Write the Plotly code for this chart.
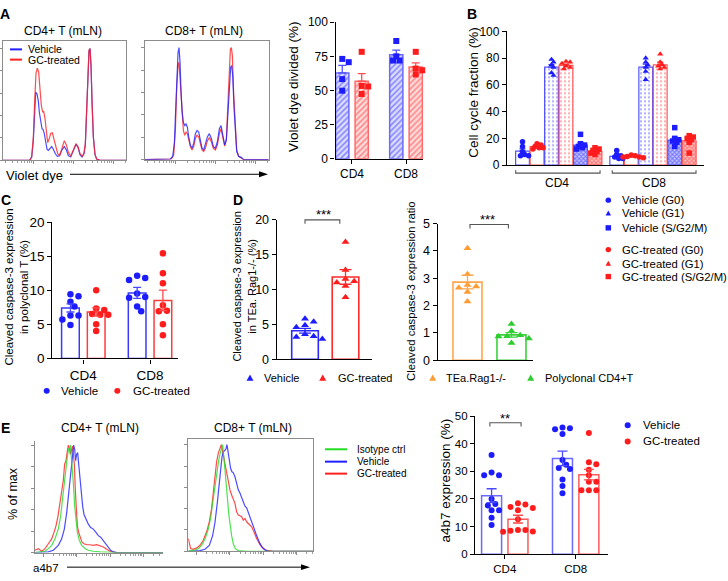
import numpy as np
import plotly.graph_objects as go

W, H = 728, 581
FONT = "Arial, Liberation Sans, sans-serif"
BLUE = "#1C1CFF"
RED = "#FF1C1C"
ORANGE = "#FF9C33"
GREEN = "#2ECC2E"
HGREEN = "#22DD22"

# ======================= DATA =======================
# Panel A histograms: violet dye channel vs event counts
A4_veh_ch = [8, 88, 95, 100, 104, 107, 111, 115, 118, 122, 126, 129, 133, 137, 141, 145, 150, 155, 160, 166, 172, 178, 186, 193, 199, 205, 212, 220, 228, 234, 240, 246, 252, 256, 260, 264, 267, 270, 273, 276, 280, 285, 290, 300, 378]
A4_veh_ct = [0, 0, 10, 62, 147, 210, 204, 182, 147, 117, 97, 95, 82, 57, 34, 30, 37, 42, 34, 20, 12, 14, 32, 42, 32, 14, 10, 27, 49, 40, 17, 10, 20, 47, 142, 267, 337, 344, 292, 182, 72, 17, 4, 0, 0]
A4_gc_ch = [8, 90, 95, 100, 104, 108, 112, 116, 120, 124, 128, 131, 135, 139, 143, 147, 152, 157, 162, 167, 173, 179, 186, 193, 199, 205, 212, 220, 228, 234, 240, 246, 252, 256, 260, 264, 267, 270, 273, 276, 280, 285, 290, 300, 378]
A4_gc_ct = [0, 0, 10, 72, 182, 267, 282, 270, 217, 167, 147, 150, 127, 87, 54, 64, 82, 84, 62, 37, 20, 14, 37, 60, 47, 24, 12, 30, 50, 42, 20, 12, 22, 52, 152, 272, 337, 342, 292, 182, 72, 17, 4, 0, 0]

A8_veh_ch = [8, 85, 92, 97, 100, 104, 108, 111, 114, 117, 120, 124, 128, 132, 136, 140, 145, 150, 155, 160, 165, 170, 175, 180, 185, 190, 196, 202, 208, 214, 220, 226, 232, 237, 242, 248, 253, 258, 262, 266, 269, 272, 276, 280, 284, 290, 298, 305, 380]
A8_veh_ct = [0, 2, 10, 50, 130, 250, 330, 345, 300, 210, 150, 115, 105, 110, 100, 70, 45, 35, 50, 80, 90, 85, 60, 35, 30, 45, 70, 80, 65, 40, 35, 55, 95, 105, 80, 45, 60, 150, 240, 285, 290, 260, 160, 70, 25, 10, 7, 0, 0]
A8_gc_ch = [8, 88, 95, 100, 104, 108, 111, 114, 117, 120, 124, 128, 132, 136, 140, 145, 150, 155, 160, 165, 170, 175, 180, 185, 190, 196, 202, 208, 214, 220, 226, 232, 237, 242, 248, 253, 258, 262, 265, 268, 271, 275, 280, 284, 290, 298, 305, 380]
A8_gc_ct = [0, 2, 15, 90, 220, 290, 300, 250, 180, 120, 90, 75, 85, 80, 60, 40, 30, 40, 65, 75, 70, 50, 30, 25, 35, 58, 68, 55, 35, 30, 45, 80, 95, 70, 42, 65, 180, 290, 340, 345, 320, 200, 80, 30, 10, 5, 0, 0]

# Panel A bar chart: violet dye divided (%)
A_groups = ["CD4", "CD8"]
A_veh_mean = [62.8, 76.2]
A_veh_sem = [5.5, 3.3]
A_gc_mean = [56.8, 67.1]
A_gc_sem = [5.5, 3.1]
A_veh_pts = [[73.1, 70.7, 58.3, 49.8], [86.2, 75.0, 71.9, 71.9]]
A_gc_pts = [[78.3, 53.3, 52.9, 47.4], [78.3, 66.0, 64.8, 61.7]]

# Panel B: cell cycle fraction (%), [CD4, CD8] x [G0, G1, S/G2/M]
B_groups = ["CD4", "CD8"]
B_phases = ["G0", "G1", "S/G2/M"]
B_veh_mean = [[10.5, 73.3, 15.0], [6.6, 73.3, 18.7]]
B_veh_sem = [[1.6, 1.8, 1.6], [0.9, 2.2, 2.0]]
B_gc_mean = [[13.8, 74.5, 10.2], [6.2, 75.0, 18.2]]
B_gc_sem = [[0.8, 1.0, 0.8], [0.3, 2.0, 1.9]]
B_veh_pts = [[[17.5, 14, 10, 8, 7, 7], [79, 77, 75, 73, 69, 67], [23, 16, 15, 14, 13, 12]],
             [[11, 8, 7, 6, 5, 5], [80, 77, 75, 73, 70, 64], [28, 20, 19, 18, 17, 14]]]
B_gc_pts = [[[16, 15, 14, 13, 13, 12], [77.5, 77, 76, 74, 73, 72], [13, 12, 11, 10, 9, 8]],
            [[7.5, 7, 6.5, 6, 6, 5.5], [83, 77, 75, 74, 73, 72], [22, 21, 20, 19, 17, 9]]]

# Panel C: cleaved caspase-3 in polyclonal T (%)
C_groups = ["CD4", "CD8"]
C_veh_mean = [7.4, 9.6]
C_veh_sem = [0.6, 0.8]
C_gc_mean = [6.8, 8.5]
C_gc_sem = [0.6, 1.5]
C_veh_pts = [[9.4, 9.1, 8.3, 7.6, 6.3, 6.3, 5.7, 4.9], [12.1, 11.8, 11.5, 9.5, 9.0, 8.9, 7.6, 6.9]]
C_gc_pts = [[10.0, 7.3, 7.1, 6.5, 6.4, 6.4, 5.0, 4.0], [15.4, 12.5, 11.0, 7.8, 7.0, 6.9, 5.0, 3.4]]

# Panel D
D1_labels = ["Vehicle", "GC-treated"]
D1_mean = [4.1, 11.8]
D1_sem = [0.35, 1.05]
D1_pts = [[5.8, 5.4, 4.9, 4.6, 3.6, 3.3, 3.2, 2.9], [16.8, 12.8, 11.5, 11.2, 11.0, 10.5, 8.9]]
D2_labels = ["TEa.Rag1-/-", "Polyclonal CD4+T"]
D2_mean = [2.86, 0.93]
D2_sem = [0.25, 0.08]
D2_pts = [[4.1, 3.15, 2.75, 2.7, 2.65, 2.5, 2.15], [1.33, 1.07, 0.92, 0.88, 0.87, 0.8, 0.63]]

# Panel E histograms: a4b7 channel vs event counts
E4_iso_ch = [15, 30, 45, 55, 65, 75, 85, 92, 98, 103, 108, 112, 116, 119, 121, 124, 127, 130, 134, 138, 142, 148, 155, 165, 175, 190, 210, 260, 399]
E4_iso_ct = [0, 2, 4, 12, 22, 42, 72, 112, 172, 222, 262, 292, 317, 312, 327, 292, 272, 212, 142, 92, 62, 37, 22, 12, 7, 4, 2, 0, 0]
E4_veh_ch = [15, 40, 55, 70, 85, 95, 103, 110, 115, 120, 124, 128, 131, 134, 137, 140, 143, 146, 150, 154, 158, 162, 168, 175, 182, 190, 198, 205, 212, 220, 228, 235, 242, 250, 260, 399]
E4_veh_ct = [0, 0, 2, 7, 22, 42, 72, 122, 172, 222, 262, 292, 330, 317, 282, 302, 307, 272, 222, 182, 142, 117, 102, 87, 77, 72, 62, 52, 47, 37, 27, 17, 7, 2, 0, 0]
E4_gc_ch = [15, 25, 35, 45, 55, 65, 72, 78, 84, 90, 95, 100, 104, 108, 112, 115, 118, 121, 124, 127, 130, 133, 136, 139, 142, 146, 150, 156, 162, 170, 180, 190, 200, 210, 220, 230, 240, 250, 260, 399]
E4_gc_ct = [7, 12, 4, 12, 27, 42, 62, 82, 112, 152, 187, 222, 272, 282, 312, 330, 322, 302, 312, 327, 302, 272, 192, 122, 82, 62, 47, 32, 27, 24, 24, 22, 24, 20, 17, 10, 4, 1, 0, 0]

E8_iso_ch = [25, 30, 45, 55, 65, 75, 85, 92, 98, 103, 108, 112, 116, 120, 124, 128, 131, 134, 138, 142, 146, 150, 155, 160, 166, 175, 200, 400]
E8_iso_ct = [0, 2, 4, 8, 18, 38, 68, 103, 148, 188, 228, 258, 278, 298, 313, 328, 298, 268, 218, 168, 118, 78, 48, 23, 8, 2, 0, 0]
E8_veh_ch = [25, 40, 60, 75, 88, 98, 105, 112, 118, 122, 126, 130, 134, 138, 141, 144, 148, 152, 156, 160, 165, 170, 175, 180, 185, 190, 195, 200, 205, 210, 215, 222, 230, 238, 246, 255, 265, 400]
E8_veh_ct = [0, 0, 2, 6, 18, 48, 88, 148, 208, 258, 288, 303, 308, 313, 326, 303, 278, 253, 243, 240, 228, 203, 188, 178, 163, 153, 138, 133, 118, 103, 88, 68, 48, 28, 13, 4, 0, 0]
E8_gc_ch = [25, 28, 32, 40, 50, 60, 70, 80, 88, 95, 100, 105, 110, 115, 120, 124, 127, 130, 135, 140, 145, 150, 155, 160, 165, 170, 175, 180, 185, 190, 195, 200, 205, 210, 215, 222, 230, 240, 250, 260, 280, 400]
E8_gc_ct = [38, 20, 8, 6, 10, 18, 33, 58, 88, 128, 178, 238, 268, 293, 308, 318, 303, 288, 258, 228, 203, 183, 168, 153, 143, 118, 108, 106, 103, 93, 98, 88, 83, 78, 73, 58, 38, 20, 8, 3, 0, 0]

# Panel E bar chart: a4b7 expression (%)
E_groups = ["CD4", "CD8"]
E_veh_mean = [21.2, 34.7]
E_veh_sem = [2.5, 2.6]
E_gc_mean = [12.7, 28.8]
E_gc_sem = [1.4, 1.9]
E_veh_pts = [[35.9, 29.6, 28.6, 28.6, 20.0, 18.2, 17.6, 15.9, 15.9, 13.2, 10.6],
             [45.9, 45.6, 45.3, 43.5, 34.1, 32.4, 31.2, 30.9, 27.1, 24.7, 22.1]]
E_gc_pts = [[18.5, 18.0, 17.1, 16.7, 15.9, 12.7, 8.8, 8.8, 8.5, 8.2, 8.1],
            [43.9, 33.3, 32.6, 30.6, 28.6, 26.2, 26.2, 23.2, 23.2, 23.2]]

# ======================= HELPERS =======================
fig = go.Figure()
layout = {}
shapes = []
anns = []


def X(p):
    return p / W


def Y(p):
    return 1 - p / H


def axes(i, xpx, ypx, xk, yk):
    s = "" if i == 1 else str(i)
    layout["xaxis" + s] = dict(domain=[X(xpx[0]), X(xpx[1])], anchor="y" + s, **xk)
    layout["yaxis" + s] = dict(domain=[Y(ypx[1]), Y(ypx[0])], anchor="x" + s, **yk)
    return "x" + s, "y" + s


def bar_y(rng, tickvals, size):
    return dict(range=rng, tickmode="array", tickvals=tickvals, showline=True, linecolor="black",
                linewidth=1.3, ticks="outside", ticklen=4, tickwidth=1.3, tickcolor="black",
                showgrid=False, zeroline=False, tickfont=dict(family=FONT, size=size, color="black"))


def bar_x(rng, tickvals=None, ticktext=None, size=12):
    d = dict(range=rng, showline=True, linecolor="black", linewidth=1.3, showgrid=False, zeroline=False,
             tickfont=dict(family=FONT, size=size, color="black"))
    if tickvals is not None:
        d.update(tickmode="array", tickvals=tickvals, ticktext=ticktext, ticks="outside", ticklen=4,
                 tickwidth=1.3, tickcolor="black")
    else:
        d.update(showticklabels=False, ticks="")
    return d


def log_ticks(starts, width):
    major, minor = [], []
    for s in starts:
        major.append(s)
        for k in range(2, 10):
            minor.append(s + width * np.log10(k))
    return major, minor


def hist_x(rng, starts, width, mirror):
    major, minor = log_ticks(starts, width)
    return dict(range=rng, showline=True, linecolor="#8c8c8c", linewidth=1, mirror=mirror,
                ticks="outside", ticklen=3, tickcolor="#8c8c8c", tickwidth=1, tickmode="array",
                tickvals=major, showticklabels=False, showgrid=False, zeroline=False,
                minor=dict(tickmode="array", tickvals=minor, ticks="outside", ticklen=2, tickcolor="#9c9c9c"))


def hist_y(top, mirror):
    return dict(range=[0, top], showline=True, linecolor="#8c8c8c", linewidth=1, mirror=mirror,
                ticks="outside", ticklen=3, tickcolor="#8c8c8c", tickmode="array",
                tickvals=[0, 20, 40, 60, 80, 100], showticklabels=False, showgrid=False, zeroline=False)


def hist(xa, ya, ch, ct, color):
    ct = np.asarray(ct, float)
    pct = ct / ct.max() * 100.0
    fig.add_trace(go.Scatter(x=ch, y=pct, mode="lines", line=dict(color=color, width=1.2), opacity=0.8,
                             xaxis=xa, yaxis=ya, showlegend=False, hoverinfo="skip"))


def swarm(vals, kx, ky, d, sep=0.92):
    vals = np.asarray(vals, float)
    order = np.argsort(-vals, kind="stable")
    placed = []
    offs = np.zeros(len(vals))
    step = d * 0.62 * sep / 0.92
    cands = [0.0]
    for k in range(1, 14):
        cands += [k * step, -k * step]
    for i in order:
        yv = vals[i] * ky
        pick = cands[-1]
        for c in cands:
            if all((c - a) ** 2 + (yv - b) ** 2 >= (sep * d) ** 2 for a, b in placed):
                pick = c
                break
        placed.append((pick, yv))
        offs[i] = pick / kx
    return offs


def bars(xa, ya, xs, means, width, fill, edge, pattern=None, lw=1.5):
    mk = dict(color=fill, line=dict(color=edge, width=lw))
    if pattern is not None:
        mk["pattern"] = pattern
    fig.add_trace(go.Bar(x=xs, y=means, width=width, marker=mk, xaxis=xa, yaxis=ya,
                         showlegend=False, hoverinfo="skip"))


def errs(xa, ya, xs, means, sems, color, both=True, cap=4):
    fig.add_trace(go.Scatter(x=xs, y=means, mode="markers", marker=dict(size=1, color="rgba(0,0,0,0)"),
                             error_y=dict(type="data", symmetric=False, array=sems,
                                          arrayminus=sems if both else [0] * len(sems),
                                          color=color, thickness=1.3, width=cap),
                             xaxis=xa, yaxis=ya, showlegend=False, hoverinfo="skip"))


def points(xa, ya, center, vals, kx, ky, d, symbol, color, sep=0.92):
    offs = swarm(vals, kx, ky, d, sep)
    fig.add_trace(go.Scatter(x=center + offs, y=vals, mode="markers",
                             marker=dict(symbol=symbol, size=d, color=color, line=dict(width=0)),
                             xaxis=xa, yaxis=ya, showlegend=False, hoverinfo="skip", cliponaxis=False))


def text(t, x, y, size=12, xanchor="center", angle=0, bold=False, color="black", xref="paper"):
    anns.append(dict(text=("<b>%s</b>" % t) if bold else t, x=X(x) if xref == "paper" else x,
                     y=Y(y), xref=xref, yref="paper", showarrow=False, xanchor=xanchor,
                     yanchor="middle", textangle=angle,
                     font=dict(family=FONT, size=size, color=color)))


def hline(x0, x1, y, color, w=2):
    shapes.append(dict(type="line", xref="paper", yref="paper", x0=X(x0), x1=X(x1), y0=Y(y), y1=Y(y),
                       line=dict(color=color, width=w)))


def glyph(x, y, sym, color, s=6):
    if sym == "circle":
        shapes.append(dict(type="circle", xref="paper", yref="paper", x0=X(x - s / 2), x1=X(x + s / 2),
                           y0=Y(y + s / 2), y1=Y(y - s / 2), fillcolor=color, line=dict(width=0)))
    elif sym == "square":
        shapes.append(dict(type="rect", xref="paper", yref="paper", x0=X(x - s / 2), x1=X(x + s / 2),
                           y0=Y(y + s / 2), y1=Y(y - s / 2), fillcolor=color, line=dict(width=0)))
    else:
        p = "M %f,%f L %f,%f L %f,%f Z" % (X(x - s / 2), Y(y + s * 0.42), X(x + s / 2), Y(y + s * 0.42),
                                           X(x), Y(y - s * 0.5))
        shapes.append(dict(type="path", xref="paper", yref="paper", path=p, fillcolor=color,
                           line=dict(width=0)))


def arrow(x0, x1, y):
    shapes.append(dict(type="line", xref="paper", yref="paper", x0=X(x0), x1=X(x1 - 6), y0=Y(y), y1=Y(y),
                       line=dict(color="black", width=1)))
    p = "M %f,%f L %f,%f L %f,%f Z" % (X(x1), Y(y), X(x1 - 9), Y(y - 3), X(x1 - 9), Y(y + 3))
    shapes.append(dict(type="path", xref="paper", yref="paper", path=p, fillcolor="black",
                       line=dict(width=0)))


def bracket(xref, xa, xb, ypx, h, color="#555555"):
    p = "M %f,%f L %f,%f L %f,%f L %f,%f" % (xa, Y(ypx + h), xa, Y(ypx), xb, Y(ypx), xb, Y(ypx + h))
    shapes.append(dict(type="path", xref=xref, yref="paper", path=p, line=dict(color=color, width=1.1)))


# ======================= PANEL A =======================
xa, ya = axes(1, (2.7, 126), (35, 157.3), hist_x([8, 378], [-20, 100, 220, 340], 120, True), hist_y(106.7, True))
hist(xa, ya, A4_veh_ch, A4_veh_ct, "#2020FF")
hist(xa, ya, A4_gc_ch, A4_gc_ct, "#FF2020")
xa, ya = axes(2, (144.7, 268.7), (35, 156.7), hist_x([8, 380], [-20, 100, 220, 340], 120, True), hist_y(105.8, True))
hist(xa, ya, A8_gc_ch, A8_gc_ct, "#FF2020")
hist(xa, ya, A8_veh_ch, A8_veh_ct, "#2020FF")

text("CD4+ T (mLN)", 62.5, 25, 12)
text("CD8+ T (mLN)", 204, 25, 12)
hline(10, 22, 43.5, "#2020FF")
hline(10, 22, 54, "#FF2020")
text("Vehicle", 26, 43.5, 10.5, xanchor="left")
text("GC-treated", 26, 54, 10.5, xanchor="left")
text("Violet dye", 4, 172.5, 13, xanchor="left")
arrow(70, 268, 171.7)

kA = 54.0
xa, ya = axes(3, (335.5, 423.3), (15.6, 155.7),
              bar_x([-0.305, 1.32], [0, 1], A_groups, 12), bar_y([0, 100], [0, 25, 50, 75, 100], 12))
gA = np.arange(len(A_groups), dtype=float)
hatch_b = dict(shape="/", fgcolor="#3333FF", bgcolor="#DCDCFF", size=4, solidity=0.4)
hatch_r = dict(shape="/", fgcolor="#FF3333", bgcolor="#FFDCDC", size=4, solidity=0.4)
bars(xa, ya, gA - 0.18, A_veh_mean, 0.245, "#DCDCFF", "#6A6AFF", hatch_b)
bars(xa, ya, gA + 0.18, A_gc_mean, 0.245, "#FFDCDC", "#FF6A6A", hatch_r)
errs(xa, ya, gA - 0.18, A_veh_mean, A_veh_sem, "#5050FF", both=False)
errs(xa, ya, gA + 0.18, A_gc_mean, A_gc_sem, "#FF5050", both=False)
for g in range(len(A_groups)):
    points(xa, ya, g - 0.18, A_veh_pts[g], kA, 1.401, 6, "square", BLUE, 0.8)
    points(xa, ya, g + 0.18, A_gc_pts[g], kA, 1.401, 6, "square", RED, 0.8)
text("Violet dye divided (%)", 294, 82, 13.5, angle=-90)

# ======================= PANEL B =======================
kB = 14.5
xa, ya = axes(4, (507, 704), (25, 162.3), bar_x([-1.07, 12.52]), bar_y([0, 100], [0, 20, 40, 60, 80, 100], 12))
syms = ["circle", "triangle-up", "square"]
for g in range(2):
    for p in range(3):
        xv = g * 6.5 + 2 * p
        xg = xv + 1
        if p == 0:
            pb = None
            pr = None
            fb, fr = "white", "white"
        elif p == 1:
            pb = dict(shape=".", fgcolor="#5B5BFF", bgcolor="white", size=4, solidity=0.25)
            pr = dict(shape=".", fgcolor="#FF5B5B", bgcolor="white", size=4, solidity=0.25)
            fb, fr = "white", "white"
        else:
            pb = dict(shape="x", fgcolor="#2B2BFF", bgcolor="#C8C8FF", size=3, solidity=0.6)
            pr = dict(shape="x", fgcolor="#FF2B2B", bgcolor="#FFC8C8", size=3, solidity=0.6)
            fb, fr = "#C8C8FF", "#FFC8C8"
        bars(xa, ya, [xv], [B_veh_mean[g][p]], 0.95, fb, "#5555FF", pb, lw=1.2)
        bars(xa, ya, [xg], [B_gc_mean[g][p]], 0.95, fr, "#FF5555", pr, lw=1.2)
for g in range(2):
    for p in range(3):
        xv = g * 6.5 + 2 * p
        xg = xv + 1
        errs(xa, ya, [xv], [B_veh_mean[g][p]], [B_veh_sem[g][p]], "#3A3AFF", both=False, cap=3)
        errs(xa, ya, [xg], [B_gc_mean[g][p]], [B_gc_sem[g][p]], "#FF3A3A", both=False, cap=3)
        points(xa, ya, xv, B_veh_pts[g][p], kB, 1.373, 5.5, syms[p], BLUE, 0.55)
        points(xa, ya, xg, B_gc_pts[g][p], kB, 1.373, 5.5, syms[p], RED, 0.55)
bracket(xa, -0.47, 5.35, 170.5, -3)
bracket(xa, 6.19, 11.97, 170.5, -3)
text(B_groups[0], 2.38, 181, 12, xref=xa)
text(B_groups[1], 9.07, 181, 12, xref=xa)
text("Cell cycle fraction (%)", 474, 88, 13.5, angle=-90)

leg_y_v = [198.3, 211.7, 226.7]
leg_y_g = [249, 263.3, 276.7]
gsym = ["circle", "triangle", "square"]
for p in range(3):
    glyph(608.3, leg_y_v[p], gsym[p], BLUE, 5.5)
    glyph(608.3, leg_y_g[p], gsym[p], RED, 5.5)
    text("Vehicle (%s)" % B_phases[p], 620, leg_y_v[p], 11.3, xanchor="left")
    text("GC-treated (%s)" % B_phases[p], 620, leg_y_g[p], 11.3, xanchor="left")

# ======================= PANEL C =======================
kC = 66.7
xa, ya = axes(5, (52.3, 178.3), (220.7, 360.7),
              bar_x([-0.465, 1.424], [0, 1], C_groups, 13.5), bar_y([0, 20], [0, 5, 10, 15, 20], 13.5))
gC = np.arange(2, dtype=float)
bars(xa, ya, gC - 0.193, C_veh_mean, 0.265, "white", "#3A3AFF")
bars(xa, ya, gC + 0.193, C_gc_mean, 0.265, "white", "#FF3A3A")
for g in range(2):
    points(xa, ya, g - 0.193, C_veh_pts[g], kC, 7.0, 6.5, "circle", BLUE)
    points(xa, ya, g + 0.193, C_gc_pts[g], kC, 7.0, 6.5, "circle", RED)
errs(xa, ya, gC - 0.193, C_veh_mean, C_veh_sem, "#4A4AFF")
errs(xa, ya, gC + 0.193, C_gc_mean, C_gc_sem, "#FF4A4A")
text("Cleaved caspase-3 expression<br>in polyclonal T (%)", 17, 288, 11.5, angle=-90)
glyph(46.7, 394, "circle", BLUE, 6)
text("Vehicle", 59, 394, 11.5, xanchor="left")
glyph(117.3, 394, "circle", RED, 6)
text("GC-treated", 131, 394, 11.5, xanchor="left")

# ======================= PANEL D =======================
kD1 = 40.5
xa, ya = axes(6, (276.7, 371.7), (218.3, 361.7), bar_x([-0.699, 1.647]), bar_y([0, 20], [0, 5, 10, 15, 20], 12.5))
bars(xa, ya, [0], [D1_mean[0]], 0.657, "white", "#2A2AFF", lw=1.6)
bars(xa, ya, [1], [D1_mean[1]], 0.657, "white", "#FF2A2A", lw=1.6)
points(xa, ya, 0, D1_pts[0], kD1, 7.17, 7, "triangle-up", BLUE)
points(xa, ya, 1, D1_pts[1], kD1, 7.17, 7, "triangle-up", RED)
errs(xa, ya, [0], [D1_mean[0]], [D1_sem[0]], "#2A2AFF", cap=6)
errs(xa, ya, [1], [D1_mean[1]], [D1_sem[1]], "#FF2A2A", cap=6)
bracket(xa, 0.0, 0.86, 218.5, 4)
text("***", 323.5, 213.5, 13)
text("Cleaved caspase-3 expression<br>in TEa. Rag1-/- (%)", 244, 287, 11, angle=-90)
glyph(250, 380.7, "triangle", BLUE, 7)
text(D1_labels[0], 262, 380.7, 11, xanchor="left")
glyph(322.7, 380.7, "triangle", RED, 7)
text(D1_labels[1], 336, 380.7, 11, xanchor="left")

kD2 = 44.0
xa, ya = axes(7, (437.7, 533), (222.3, 362.7), bar_x([-0.677, 1.489]), bar_y([0, 5], [0, 1, 2, 3, 4, 5], 12.5))
bars(xa, ya, [0], [D2_mean[0]], 0.66, "white", "#FFA64D", lw=1.6)
bars(xa, ya, [1], [D2_mean[1]], 0.66, "white", "#3BD13B", lw=1.6)
points(xa, ya, 0, D2_pts[0], kD2, 28.08, 7, "triangle-up", ORANGE)
points(xa, ya, 1, D2_pts[1], kD2, 28.08, 7, "triangle-up", GREEN)
errs(xa, ya, [0], [D2_mean[0]], [D2_sem[0]], "#FFA64D", cap=6)
errs(xa, ya, [1], [D2_mean[1]], [D2_sem[1]], "#3BD13B", cap=6)
bracket(xa, 0.057, 0.93, 223.3, 4)
text("***", 487.5, 218.5, 13)
text("Cleaved caspase-3 expression ratio", 411.5, 292, 11.3, angle=-90)
glyph(432.7, 380.7, "triangle", ORANGE, 7)
text(D2_labels[0], 444, 380.7, 11, xanchor="left")
glyph(530.7, 380.7, "triangle", GREEN, 7)
text(D2_labels[1], 543, 380.7, 11, xanchor="left")

# ======================= PANEL E =======================
xa, ya = axes(8, (35, 163), (445, 560), hist_x([15, 399], [40, 140, 240, 340], 100, False), hist_y(104.3, False))
hist(xa, ya, E4_gc_ch, E4_gc_ct, "#FF2020")
hist(xa, ya, E4_veh_ch, E4_veh_ct, "#2020FF")
hist(xa, ya, E4_iso_ch, E4_iso_ct, HGREEN)
xa, ya = axes(9, (188.3, 313.3), (443.3, 558.7), hist_x([25, 400], [50, 150, 250, 350], 100, True), hist_y(105.5, True))
hist(xa, ya, E8_gc_ch, E8_gc_ct, "#FF2020")
hist(xa, ya, E8_veh_ch, E8_veh_ct, "#2020FF")
hist(xa, ya, E8_iso_ch, E8_iso_ct, HGREEN)
text("CD4+ T (mLN)", 100, 432, 12)
text("CD8+ T (mLN)", 252.5, 432, 12)
text("% of max", 13, 500, 12.5, angle=-90)
text("a4b7", 31, 576, 11.5, xanchor="left")
arrow(67, 310, 575)
hline(325, 347, 454, HGREEN)
hline(325, 347, 466.7, "#2020FF")
hline(325, 347, 479, "#FF2020")
text("Isotype ctrl", 355, 454, 10, xanchor="left")
text("Vehicle", 355, 466.7, 10, xanchor="left")
text("GC-treated", 355, 479, 10, xanchor="left")

kE = 70.9
xa, ya = axes(10, (475, 608), (420, 561.7),
              bar_x([-0.42, 1.456], [0, 1], E_groups, 11.5), bar_y([0, 50], [0, 10, 20, 30, 40, 50], 11.5))
gE = np.arange(2, dtype=float)
bars(xa, ya, gE - 0.186, E_veh_mean, 0.282, "white", "#6A6AFF")
bars(xa, ya, gE + 0.186, E_gc_mean, 0.282, "white", "#FF5A5A")
for g in range(2):
    points(xa, ya, g - 0.186, E_veh_pts[g], kE, 2.834, 6, "circle", BLUE)
    points(xa, ya, g + 0.186, E_gc_pts[g], kE, 2.834, 6, "circle", RED)
errs(xa, ya, gE - 0.186, E_veh_mean, E_veh_sem, "#4A4AFF", cap=5)
errs(xa, ya, gE + 0.186, E_gc_mean, E_gc_sem, "#FF4A4A", cap=5)
bracket(xa, -0.21, 0.23, 426.7, 4)
text("**", 505, 422, 13)
text("a4b7 expression (%)", 445, 486, 13.5, angle=-90)
glyph(627.7, 429.3, "circle", BLUE, 6)
text("Vehicle", 641, 429.3, 11.5, xanchor="left")
glyph(627.7, 446, "circle", RED, 6)
text("GC-treated", 641, 446, 11.5, xanchor="left")

# panel letters
for L, (lx, ly) in zip("ABCDE", [(5, 7), (472, 7), (6, 198), (238, 198), (5, 432)]):
    text(L, lx, ly, 14, bold=True)

layout.update(width=W, height=H, autosize=False, margin=dict(l=0, r=0, t=0, b=0, pad=0),
              paper_bgcolor="white", plot_bgcolor="white", showlegend=False, barmode="overlay",
              shapes=shapes, annotations=anns, font=dict(family=FONT, color="black"))
fig.update_layout(**layout)
fig.write_html("out.html", config={"displayModeBar": False},
               post_script="document.body.style.margin='0px';document.body.style.padding='0px';")
